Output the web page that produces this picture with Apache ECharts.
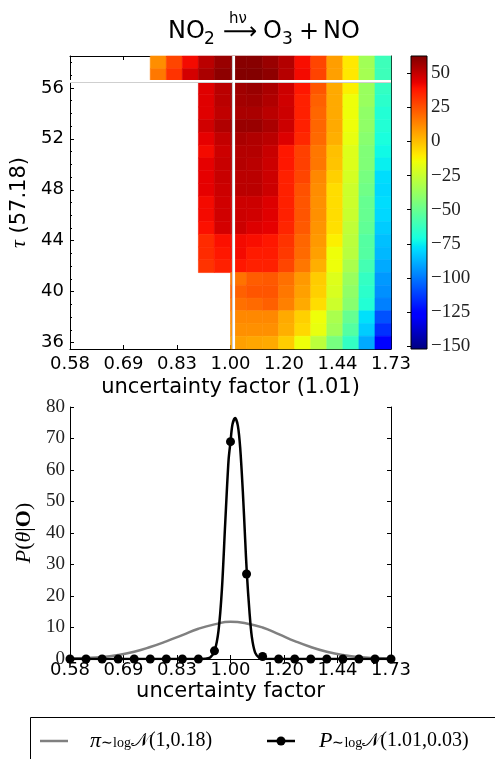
<!DOCTYPE html>
<html><head><meta charset="utf-8">
<script src="https://cdn.jsdelivr.net/npm/echarts@6/dist/echarts.min.js"></script>
<style>html,body{margin:0;padding:0;background:#fff}#c{width:495px;height:759px}</style>
</head><body><div id="c"></div><script>
// ---- data ----
const xEdges = [0.5787,0.6112,0.6456,0.6819,0.7202,0.7607,0.8035,0.8487,0.8964,0.9468,1.0,1.0562,1.1156,1.1783,1.2446,1.3145,1.3884,1.4665,1.5490,1.6361,1.7280];
const tauRows = [58,57,56,55,54,53,52,51,50,49,48,47,46,45,44,43,42,41,40,39,38,37,36];
const n = null;
const r58 = [n,n,n,n,n,11,27.6,41,51.7,57.9,61,61,58,53,40,27.6,7.5,-9.5,-35,-61];
const r57 = [n,n,n,n,n,16,31.7,47,54.7,60,62,62,60,52.5,41,28,7,-9.5,-34,-61];
const r56 = [n,n,n,n,n,n,n,n,44.8,51.7,56.6,57.9,54.7,48.4,38,24,4.7,-11.2,-37,-63.6];
const r55 = [n,n,n,n,n,n,n,n,44.8,51.7,56,56.6,53.6,47.7,36,21.5,4.7,-14.9,-37,-65.5];
const r54 = [n,n,n,n,n,n,n,n,44.8,50.6,54.7,54.7,51.7,48.4,36,20.1,4.7,-14.9,-39.3,-68];
const r53 = [n,n,n,n,n,n,n,n,47.7,53.6,57.9,57.9,54.7,48.4,36,20.1,4.7,-14.9,-39.3,-68];
const r52 = [n,n,n,n,n,n,n,n,43.6,50,54.7,53.6,51.7,45.2,34.5,19.5,3.4,-16.4,-41.4,-70.2];
const r51 = [n,n,n,n,n,n,n,n,41,48.4,52.9,52.9,49.2,38,28.8,16.2,-0.3,-19.2,-43.6,-72.6];
const r50 = [n,n,n,n,n,n,n,n,43.6,49.2,52.9,51.7,48.4,38,28.8,16.2,-1.3,-19.2,-43.6,-74.7];
const r49 = [n,n,n,n,n,n,n,n,43.6,49.2,51.7,51.7,48.4,36,27.6,12.4,-4,-21.7,-45.8,-78.6];
const r48 = [n,n,n,n,n,n,n,n,43.6,48.4,51.7,51.7,48.4,36,25,11.4,-7,-23.7,-47.7,-79.6];
const r47 = [n,n,n,n,n,n,n,n,41,47.7,48.4,48.4,45.2,36,24,10.6,-7,-23.7,-50.3,-78.6];
const r46 = [n,n,n,n,n,n,n,n,41,47.7,48.4,47.7,44.8,36,24,10.6,-7,-24.7,-50.3,-79.6];
const r45 = [n,n,n,n,n,n,n,n,39.6,47,48.4,45.2,43.6,35,23,9.7,-7.5,-26.8,-51.8,-82.3];
const r44 = [n,n,n,n,n,n,n,n,33.6,39.6,41,40,38,31.7,20.1,8.5,-11.2,-28.2,-54.8,-84.8];
const r43 = [n,n,n,n,n,n,n,n,33.6,38,41,37,37,30.5,19.2,7,-14.9,-29,-54.8,-86.5];
const r42 = [n,n,n,n,n,n,n,n,31.7,36,38,36,36,27.6,16.2,3.4,-14.9,-32.5,-59.1,-89.4];
const r41 = [n,n,n,n,n,n,n,n,n,n,17,22,23,17.8,8.5,-3.1,-19.2,-37,-63.6,-93];
const r40 = [n,n,n,n,n,n,n,n,n,n,21.5,24,24,16.2,7,-4,-20.5,-39.3,-65.5,-94.9];
const r39 = [n,n,n,n,n,n,n,n,n,n,17.8,19.2,21.5,14.3,4.7,-7,-23.7,-41.4,-68,-98.4];
const r38 = [n,n,n,n,n,n,n,n,n,n,12.4,12.4,12.4,4.7,-4,-14.9,-32.5,-50.3,-78,-108.3];
const r37 = [n,n,n,n,n,n,n,n,n,n,10.6,10.6,10.6,3.4,-5.8,-16.4,-35,-54.8,-82.3,-115];
const r36 = [n,n,n,n,n,n,n,n,n,n,7,5.5,4.7,-3.1,-14.9,-28.2,-45.8,-63.6,-89.4,-126];
const heatRows = [r58,r57,r56,r55,r54,r53,r52,r51,r50,r49,r48,r47,r46,r45,r44,r43,r42,r41,r40,r39,r38,r37,r36];

const bestFactor = 1.01;     // vertical white line
const bestTau = 56.55;       // horizontal white line (as drawn)
const colorMin = -152, colorMax = 62.6;
const colorTicks = [-150,-125,-100,-75,-50,-25,0,25,50];
const tauTicks = [36,40,44,48,52,56];
const tauMinor = [36,37,38,39,40,41,42,43,44,45,46,47,48,49,50,51,52,53,54,55,56,57,58];

// prior curve (grey)
const priorX = [0.5787,0.6112,0.6456,0.6819,0.7202,0.7607,0.8035,0.8487,0.8964,0.9468,1.0,1.0562,1.1156,1.1783,1.2446,1.3145,1.3884,1.4665,1.5490,1.6361,1.7280];
const priorY = [0.12,0.30,0.63,1.25,2.3,3.8,5.6,7.6,9.6,11.0,11.8,11.3,10.0,7.9,5.7,3.8,2.3,1.25,0.63,0.29,0.12];
// posterior curve (black)
const postX = [0.5787,0.88,0.905,0.9176,0.9332,0.9471,0.9600,0.9711,0.9821,0.9933,1.0,1.0068,1.016,1.0255,1.0336,1.0430,1.0512,1.0574,1.0668,1.0754,1.0876,1.1036,1.119,1.14,1.7280];
const postY = [0,0,0,0.05,0.5,2.5,9,22,43,63,69,74.5,76.5,74,67,53,38,27,15,7,2,0.3,0,0,0];
// posterior sample dots
const dotY = [0,0,0,0,0,0,0,0,0,2.6,69,27,0.8,0,0,0,0,0,0,0,0];

// legend texts
const priorLabel = ['\u03c0', '\u223clog', '\ud835\udca9', '(1,0.18)'];
const postLabel = ['P', '\u223clog', '\ud835\udca9', '(1.01,0.03)'];

// ---- helpers (style only) ----
function jet(t){
  const cl = v => Math.max(0, Math.min(1, v));
  const r = t < 0.35 ? 0 : t < 0.66 ? (t-0.35)/0.31 : t < 0.89 ? 1 : 1 - (t-0.89)/0.11*0.5;
  const g = t < 0.125 ? 0 : t < 0.375 ? (t-0.125)/0.25 : t < 0.64 ? 1 : t < 0.91 ? (0.91-t)/0.27 : 0;
  const b = t < 0.11 ? 0.5 + t/0.11*0.5 : t < 0.34 ? 1 : t < 0.65 ? (0.65-t)/0.31 : 0;
  return 'rgb(' + Math.round(cl(r)*255) + ',' + Math.round(cl(g)*255) + ',' + Math.round(cl(b)*255) + ')';
}
const jetColors = [];
const jetStops = [];
for (let i = 0; i <= 100; i++) { jetColors.push(jet(i/100)); jetStops.push({offset: i/100, color: jet(1 - i/100)}); }

const heatData = [];
tauRows.forEach((tau, i) => heatRows[i].forEach((v, c) => {
  if (v !== null) heatData.push([xEdges[c], xEdges[c+1], tau, v]);
}));

const SANS = 'DejaVu Sans', SERIF = 'Liberation Serif';
const fmtX = v => v.toFixed(2);
const minus = v => (v < 0 ? '\u2212' + Math.abs(v) : String(v));
const legRich = {
  i: {fontFamily: SERIF, fontStyle: 'italic', fontSize: 22, fill: '#000'},
  s: {fontFamily: SERIF, fontSize: 14, fill: '#000', padding: [4, 0, 0, 0]},
  c: {fontFamily: 'DejaVu Serif', fontSize: 19, fill: '#000'},
  n: {fontFamily: SERIF, fontSize: 20, fill: '#000'}
};
const legText = p => '{i|' + p[0] + '}{s|' + p[1] + '}{c|' + p[2] + '}{n|' + p[3] + '}';

const chart = echarts.init(document.getElementById('c'), null, {renderer: 'canvas'});
const tickStyle = {inside: true, length: 4, lineStyle: {color: '#000', width: 1}};
const lineStyleAx = {show: true, lineStyle: {color: '#000', width: 1}};

chart.setOption({
  animation: false,
  backgroundColor: '#fff',
  grid: [
    {left: 70, top: 56, width: 321, height: 293},
    {left: 411, top: 56, width: 16, height: 293},
    {left: 70, top: 407, width: 321, height: 252}
  ],
  xAxis: [
    {gridIndex: 0, type: 'log', logBase: 1.2, min: 0.5787037037037037, max: 1.728, position: 'bottom',
     axisLine: lineStyleAx, axisTick: tickStyle, splitLine: {show: false},
     axisLabel: {formatter: fmtX, fontFamily: SANS, fontSize: 18, color: '#000', margin: 6},
     name: 'uncertainty factor (1.01)', nameLocation: 'middle', nameGap: 28,
     nameTextStyle: {fontFamily: SANS, fontSize: 21, color: '#000'}},
    {gridIndex: 0, type: 'log', logBase: 1.2, min: 0.5787037037037037, max: 1.728, position: 'top',
     axisLine: lineStyleAx, axisTick: tickStyle, axisLabel: {show: false}, splitLine: {show: false}},
    {gridIndex: 1, type: 'value', show: false},
    {gridIndex: 2, type: 'log', logBase: 1.2, min: 0.5787037037037037, max: 1.728, position: 'bottom',
     axisLine: lineStyleAx, axisTick: tickStyle, splitLine: {show: false},
     axisLabel: {formatter: fmtX, fontFamily: SANS, fontSize: 18, color: '#000', margin: 2},
     name: 'uncertainty factor', nameLocation: 'middle', nameGap: 22,
     nameTextStyle: {fontFamily: SANS, fontSize: 21, color: '#000'}},
    {gridIndex: 2, type: 'log', logBase: 1.2, min: 0.5787037037037037, max: 1.728, position: 'top',
     axisLine: lineStyleAx, axisTick: tickStyle, axisLabel: {show: false}, splitLine: {show: false}}
  ],
  yAxis: [
    {gridIndex: 0, type: 'value', min: 35.5, max: 58.5, position: 'left',
     axisLine: lineStyleAx, splitLine: {show: false},
     axisTick: Object.assign({customValues: tauTicks}, tickStyle),
     axisLabel: {customValues: tauTicks, fontFamily: SANS, fontSize: 18, color: '#000', margin: 6},
     name: '{g|\u03c4} (57.18)', nameLocation: 'middle', nameGap: 32,
     nameTextStyle: {fontFamily: SANS, fontSize: 21, color: '#000', rich: {g: {fontFamily: SERIF, fontStyle: 'italic', fontSize: 22}}}},
    {gridIndex: 0, type: 'value', min: 35.5, max: 58.5, position: 'left',
     axisLine: {show: false}, splitLine: {show: false}, axisLabel: {show: false},
     axisTick: {customValues: tauMinor, inside: true, length: 2, lineStyle: {color: '#000'}}},
    {gridIndex: 0, type: 'value', min: 35.5, max: 58.5, position: 'right',
     axisLine: lineStyleAx, splitLine: {show: false}, axisLabel: {show: false},
     axisTick: Object.assign({customValues: tauTicks}, tickStyle)},
    {gridIndex: 0, type: 'value', min: 35.5, max: 58.5, position: 'right',
     axisLine: {show: false}, splitLine: {show: false}, axisLabel: {show: false},
     axisTick: {customValues: tauMinor, inside: true, length: 2, lineStyle: {color: '#000'}}},
    {gridIndex: 1, type: 'value', min: colorMin, max: colorMax, position: 'right',
     axisLine: {show: false}, splitLine: {show: false},
     axisTick: {customValues: colorTicks, inside: true, length: 4, lineStyle: {color: '#000'}},
     axisLabel: {customValues: colorTicks, formatter: minus, fontFamily: SERIF, fontSize: 19, color: '#222', margin: 4}},
    {gridIndex: 2, type: 'value', min: 0, max: 80, interval: 10, position: 'left',
     axisLine: lineStyleAx, axisTick: tickStyle, splitLine: {show: false},
     axisLabel: {fontFamily: SERIF, fontSize: 19, color: '#222', margin: 5},
     name: '{i|P}({i|\u03b8}|{b|O})', nameLocation: 'middle', nameGap: 30,
     nameTextStyle: {fontFamily: SERIF, fontSize: 22, color: '#000',
       rich: {i: {fontFamily: SERIF, fontStyle: 'italic', fontSize: 22}, b: {fontFamily: SERIF, fontWeight: 'bold', fontSize: 22}}}},
    {gridIndex: 2, type: 'value', min: 0, max: 80, interval: 10, position: 'right',
     axisLine: lineStyleAx, axisTick: tickStyle, splitLine: {show: false}, axisLabel: {show: false}}
  ],
  visualMap: {show: false, type: 'continuous', min: colorMin, max: colorMax, dimension: 3, seriesIndex: 0,
              inRange: {color: jetColors}},
  graphic: [
    // colour bar
    {type: 'rect', z: 100, shape: {x: 411, y: 56, width: 16, height: 293}, style: {fill: {type: 'linear', x: 0, y: 0, x2: 0, y2: 1, colorStops: jetStops}}},
    {type: 'rect', z: 101, shape: {x: 411, y: 56, width: 16, height: 293}, style: {fill: 'none', stroke: '#000', lineWidth: 1}},
    // title
    {type: 'text', x: 168, y: 32, style: {text: 'NO', fontFamily: SANS, fontSize: 24, fill: '#000', verticalAlign: 'middle'}},
    {type: 'text', x: 204, y: 40, style: {text: '2', fontFamily: SANS, fontSize: 17, fill: '#000', verticalAlign: 'middle'}},
    {type: 'text', x: 229, y: 19, style: {text: 'h\u03bd', fontFamily: SANS, fontSize: 15, fill: '#000', verticalAlign: 'middle'}},
    {type: 'text', x: 223, y: 33, style: {text: '\u27f6', fontFamily: 'DejaVu Sans', fontSize: 24, fill: '#000', verticalAlign: 'middle'}},
    {type: 'text', x: 263, y: 32, style: {text: 'O', fontFamily: SANS, fontSize: 24, fill: '#000', verticalAlign: 'middle'}},
    {type: 'text', x: 282, y: 40, style: {text: '3', fontFamily: SANS, fontSize: 17, fill: '#000', verticalAlign: 'middle'}},
    {type: 'text', x: 309, y: 33, style: {text: '+', fontFamily: 'DejaVu Sans', fontSize: 24, fill: '#000', verticalAlign: 'middle', align: 'center'}},
    {type: 'text', x: 323, y: 32, style: {text: 'NO', fontFamily: SANS, fontSize: 24, fill: '#000', verticalAlign: 'middle'}},
    // legend
    {type: 'rect', z: 50, shape: {x: 30.5, y: 717.5, width: 520, height: 80}, style: {fill: '#fff', stroke: '#000', lineWidth: 1}},
    {type: 'line', z: 51, shape: {x1: 40, y1: 741, x2: 68, y2: 741}, style: {stroke: '#808080', lineWidth: 2.5}},
    {type: 'text', z: 51, x: 90, y: 741, style: {text: legText(priorLabel), rich: legRich, verticalAlign: 'middle'}},
    {type: 'line', z: 51, shape: {x1: 267, y1: 741, x2: 295, y2: 741}, style: {stroke: '#000', lineWidth: 2.5}},
    {type: 'circle', z: 52, shape: {cx: 281, cy: 741, r: 4.5}, style: {fill: '#000'}},
    {type: 'text', z: 51, x: 319, y: 741, style: {text: legText(postLabel), rich: legRich, verticalAlign: 'middle'}}
  ],
  series: [
    {type: 'custom', name: 'heat', xAxisIndex: 0, yAxisIndex: 0, data: heatData, encode: {x: [0, 1], y: 2},
     renderItem: function (params, api) {
       const a = api.coord([api.value(0), api.value(2) + 0.5]);
       const b = api.coord([api.value(1), api.value(2) - 0.5]);
       const col = api.visual('color');
       return {type: 'rect', shape: {x: a[0], y: a[1], width: b[0] - a[0], height: b[1] - a[1]},
               style: {fill: col, stroke: col, lineWidth: 0.6}};
     },
     markLine: {silent: true, symbol: 'none', label: {show: false},
       data: [
         {xAxis: bestFactor, lineStyle: {color: '#cfcfcf', width: 3.2, type: 'solid'}},
         {yAxis: bestTau, lineStyle: {color: '#cfcfcf', width: 3, type: 'solid'}},
         {xAxis: bestFactor, lineStyle: {color: '#ffffff', width: 2, type: 'solid'}},
         {yAxis: bestTau, lineStyle: {color: '#ffffff', width: 1.8, type: 'solid'}}
       ]}
    },
    {type: 'line', name: 'prior', xAxisIndex: 3, yAxisIndex: 5, data: priorX.map((x, i) => [x, priorY[i]]),
     smooth: true, symbol: 'none', lineStyle: {color: '#808080', width: 2.5}, itemStyle: {color: '#808080'}, z: 2},
    {type: 'line', name: 'post', xAxisIndex: 3, yAxisIndex: 5, data: postX.map((x, i) => [x, postY[i]]),
     smooth: 0.3, symbol: 'none', lineStyle: {color: '#000', width: 2.5}, itemStyle: {color: '#000'}, z: 3},
    {type: 'scatter', name: 'dots', xAxisIndex: 3, yAxisIndex: 5, data: xEdges.map((x, i) => [x, dotY[i]]),
     symbolSize: 9, itemStyle: {color: '#000', opacity: 1}, z: 4}
  ]
});
</script></body></html>
